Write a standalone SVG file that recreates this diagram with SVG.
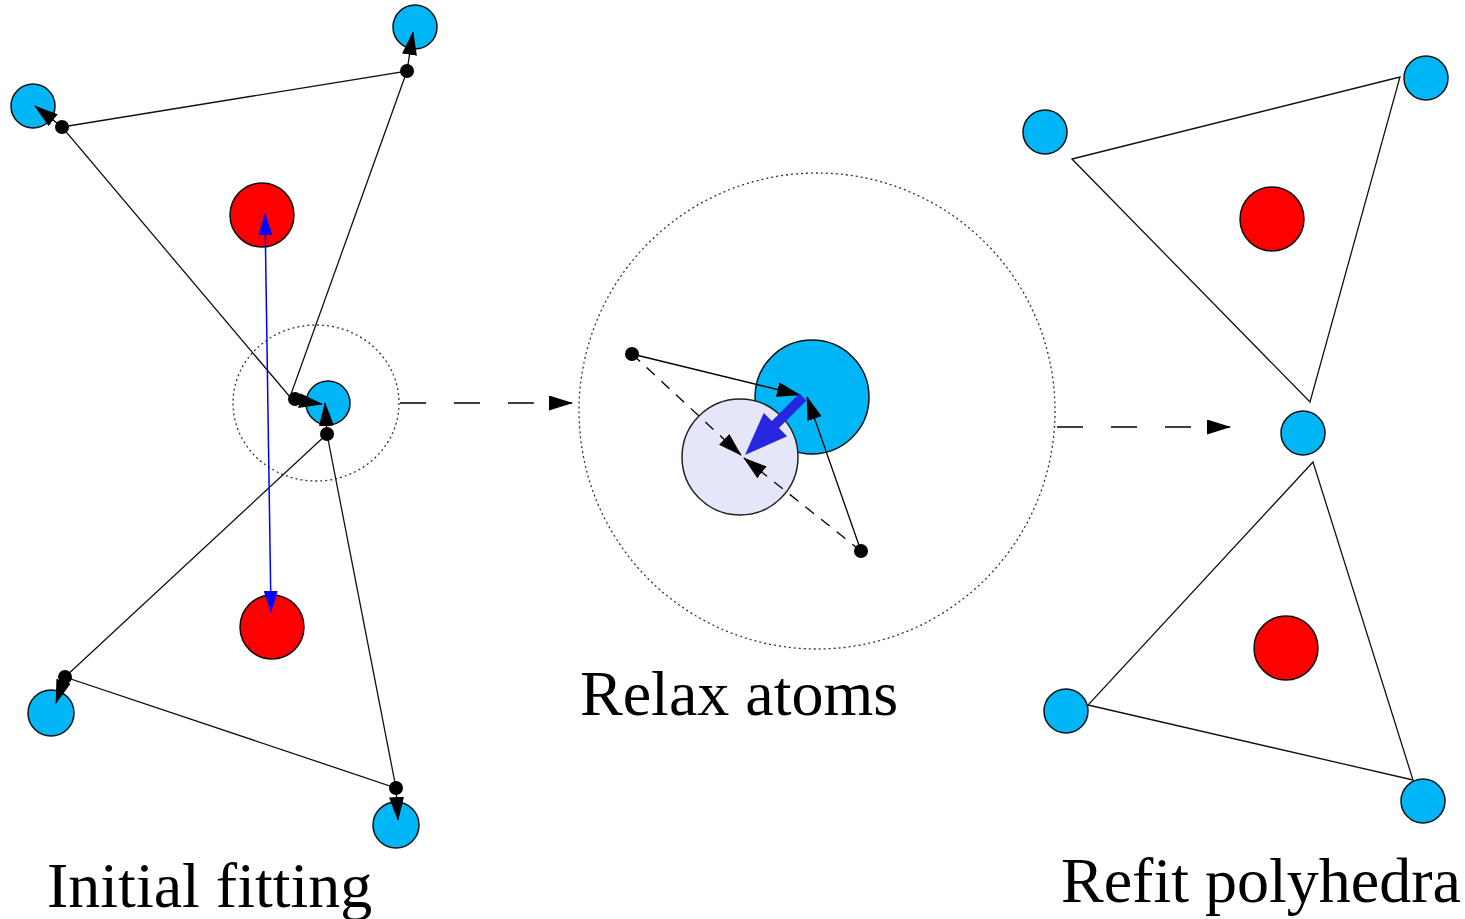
<svg xmlns="http://www.w3.org/2000/svg" width="1465" height="919" viewBox="0 0 1465 919">
<style>
.blue{fill:#00B6F6;stroke:#111;stroke-width:1.5}
.red{fill:#FF0000;stroke:#111;stroke-width:1.5}
.ghost{fill:#E6E6FA;stroke:#222;stroke-width:1.5}
.dot{fill:#000}
.edge{fill:none;stroke:#111;stroke-width:1.3}
.arr{fill:none;stroke:#000;stroke-width:1.3;marker-end:url(#ah)}
.darr{fill:none;stroke:#000;stroke-width:1.3;stroke-dasharray:11 9;marker-end:url(#ah)}
.flow{fill:none;stroke:#000;stroke-width:1.6;stroke-dasharray:26 28;marker-end:url(#ah)}
.dotted{fill:none;stroke:#333;stroke-width:1.3;stroke-dasharray:2 3}
.label{font-family:"Liberation Serif","Times New Roman",serif;font-size:64px;fill:#000}
</style>
<defs>
<marker id="ah" markerUnits="userSpaceOnUse" markerWidth="24" markerHeight="15" refX="23" refY="7.5" orient="auto">
<path d="M0,0 L24,7.5 L0,15 z" fill="#000"/>
</marker>
<marker id="bh" markerUnits="userSpaceOnUse" markerWidth="22" markerHeight="14" refX="21" refY="7" orient="auto">
<path d="M0,0 L22,7 L0,14 z" fill="#0000FF"/>
</marker>
<marker id="bt" markerUnits="userSpaceOnUse" markerWidth="22" markerHeight="14" refX="1" refY="7" orient="auto">
<path d="M22,0 L0,7 L22,14 z" fill="#0000FF"/>
</marker>
</defs>
<rect width="1465" height="919" fill="#fff"/>

<!-- Left panel nodes -->
<g id="left-zone"><ellipse class="dotted" cx="316" cy="403" rx="83" ry="78"/></g>
<g id="left-blue-tl"><circle class="blue" cx="33" cy="106" r="22"/></g>
<g id="left-blue-tr"><circle class="blue" cx="415" cy="27" r="22"/></g>
<g id="left-blue-c"><circle class="blue" cx="328" cy="403" r="22"/></g>
<g id="left-blue-bl"><circle class="blue" cx="51" cy="713" r="23"/></g>
<g id="left-blue-br"><circle class="blue" cx="396" cy="825" r="23"/></g>
<g id="left-red-top"><circle class="red" cx="262" cy="215" r="32"/></g>
<g id="left-red-bottom"><circle class="red" cx="272" cy="627" r="32"/></g>

<!-- Middle panel nodes -->
<g id="mid-zone"><circle class="dotted" cx="817" cy="411" r="238"/></g>
<g id="mid-blue"><circle class="blue" cx="812" cy="397" r="57"/></g>
<g id="mid-ghost"><circle class="ghost" cx="740" cy="457" r="58"/></g>

<!-- Right panel nodes -->
<g id="right-blue-tl"><circle class="blue" cx="1045" cy="132" r="22"/></g>
<g id="right-blue-tr"><circle class="blue" cx="1426" cy="78" r="22"/></g>
<g id="right-blue-m"><circle class="blue" cx="1303" cy="433" r="22"/></g>
<g id="right-blue-bl"><circle class="blue" cx="1066" cy="711" r="22"/></g>
<g id="right-blue-br"><circle class="blue" cx="1423" cy="801" r="22"/></g>
<g id="right-red-top"><circle class="red" cx="1272" cy="219" r="32"/></g>
<g id="right-red-bottom"><circle class="red" cx="1286" cy="648" r="32"/></g>

<!-- Connectors -->
<g id="connectors">
<!-- left triangles -->
<polygon class="edge" points="62,127 407,71 290,397"/>
<polygon class="edge" points="327,434 65,677 396,788"/>
<!-- left displacement arrows -->
<line class="arr" x1="62" y1="127" x2="35" y2="106"/>
<line class="arr" x1="407" y1="71" x2="413" y2="32"/>
<line class="arr" x1="295" y1="400" x2="322" y2="404"/>
<line class="arr" x1="327" y1="434" x2="325" y2="403"/>
<line class="arr" x1="65" y1="677" x2="56" y2="703"/>
<line class="arr" x1="396" y1="788" x2="398" y2="820"/>
<!-- blue double arrow -->
<line x1="265" y1="214" x2="271" y2="612" stroke="#0000FF" stroke-width="1.5" marker-start="url(#bt)" marker-end="url(#bh)"/>
<!-- flow arrows -->
<line class="flow" x1="400" y1="403" x2="572" y2="403"/>
<line class="flow" x1="1057" y1="427" x2="1230" y2="427"/>
<!-- middle arrows -->
<line class="arr" x1="632" y1="354" x2="800" y2="395"/>
<line class="arr" x1="861" y1="551" x2="807" y2="397"/>
<line class="darr" x1="632" y1="354" x2="741" y2="455"/>
<line class="darr" x1="861" y1="551" x2="744" y2="458"/>
<polygon fill="#2626DE" points="799.5,393.5 771.9,421.1 763.7,412.9 745,455 787.1,436.3 778.9,428.1 806.5,400.5"/>
<!-- right triangles -->
<polygon class="edge" points="1072,159 1400,77 1310,402"/>
<polygon class="edge" points="1313,462 1088,705 1413,780"/>
</g>

<!-- dots -->
<g id="dots">
<circle class="dot" cx="62" cy="127" r="7"/>
<circle class="dot" cx="407" cy="71" r="7"/>
<circle class="dot" cx="295" cy="399" r="7"/>
<circle class="dot" cx="327" cy="434" r="7"/>
<circle class="dot" cx="65" cy="677" r="7"/>
<circle class="dot" cx="396" cy="788" r="7"/>
<circle class="dot" cx="632" cy="354" r="7"/>
<circle class="dot" cx="861" cy="551" r="7"/>
</g>

<!-- labels -->
<text class="label" x="47" y="907">Initial fitting</text>
<text class="label" x="580" y="715">Relax atoms</text>
<text class="label" x="1061" y="902">Refit polyhedra</text>
</svg>
